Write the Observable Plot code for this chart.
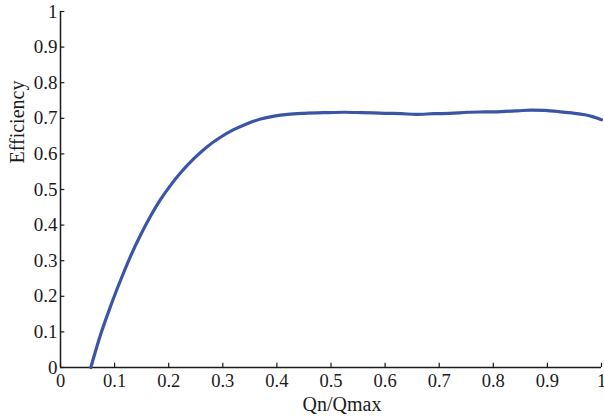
<!DOCTYPE html>
<html>
<head>
<meta charset="utf-8">
<script src="https://cdn.jsdelivr.net/npm/d3@7"></script>
<script src="https://cdn.jsdelivr.net/npm/@observablehq/plot@0.6"></script>
<style>
  html, body { margin: 0; padding: 0; background: #fff; }
  #chart svg { display: block; overflow: visible; }
  #chart svg text { font-family: 'Liberation Serif', 'DejaVu Serif', serif; }
</style>
</head>
<body>
<div id="chart"></div>
<script>
const qn = [0.056, 0.074, 0.092, 0.111, 0.129, 0.148, 0.166, 0.185, 0.203, 0.222, 0.246, 0.27, 0.295, 0.32, 0.345, 0.37, 0.395, 0.42, 0.45, 0.49, 0.525, 0.556, 0.6, 0.63, 0.657, 0.69, 0.72, 0.753, 0.785, 0.815, 0.845, 0.870, 0.895, 0.920, 0.945, 0.969, 0.985, 1.0];
const eff = [0.0, 0.092, 0.170, 0.245, 0.311, 0.372, 0.424, 0.472, 0.511, 0.547, 0.586, 0.619, 0.646, 0.668, 0.685, 0.698, 0.706, 0.711, 0.714, 0.716, 0.717, 0.716, 0.714, 0.713, 0.711, 0.713, 0.714, 0.717, 0.718, 0.719, 0.721, 0.723, 0.722, 0.719, 0.715, 0.710, 0.704, 0.696];
const xTicks = [0, 0.1, 0.2, 0.3, 0.4, 0.5, 0.6, 0.7, 0.8, 0.9, 1];
const yTicks = [0, 0.1, 0.2, 0.3, 0.4, 0.5, 0.6, 0.7, 0.8, 0.9, 1];
const xLabel = "Qn/Qmax";
const yLabel = "Efficiency";

const data = qn.map((q, i) => ({q, e: eff[i]}));
const fmt = d => d === 0 ? "0" : d === 1 ? "1" : String(d);
const ink = "#1a1a1a";
const serif = "'Liberation Serif', 'DejaVu Serif', serif";

const chart = Plot.plot({
  width: 604,
  height: 420,
  marginLeft: 60,
  marginRight: 3,
  marginTop: 11,
  marginBottom: 53,
  style: {fontFamily: serif, fontSize: "19px", color: ink, background: "#fff"},
  x: {domain: [0, 1], axis: null},
  y: {domain: [0, 1], axis: null},
  marks: [
    Plot.axisX({ticks: xTicks, tickSize: 0, tickPadding: 6, tickFormat: fmt, fontSize: 18.5, fontFamily: serif, label: null}),
    Plot.axisY({ticks: yTicks, tickSize: 0, tickPadding: 3, tickFormat: fmt, fontSize: 19, fontFamily: serif, label: null}),
    Plot.ruleX(xTicks, {x: d => d, y1: 0, y2: 0.012, stroke: ink, strokeWidth: 1.2}),
    Plot.ruleY(yTicks, {y: d => d, x1: 0, x2: 0.008, stroke: ink, strokeWidth: 1.2}),
    Plot.ruleY([0], {stroke: ink, strokeWidth: 1.5}),
    Plot.ruleX([0], {stroke: ink, strokeWidth: 1.5}),
    Plot.line(data, {x: "q", y: "e", stroke: "#3b55a6", strokeWidth: 3.2, curve: "monotone-x"}),
    Plot.text([xLabel], {frameAnchor: "bottom", dx: 11, dy: 43, fontSize: 20, fontFamily: serif, fill: ink}),
    Plot.text([yLabel], {frameAnchor: "left", rotate: -90, dx: -43, dy: -26, fontSize: 20, fontFamily: serif, fill: ink})
  ]
});
document.getElementById("chart").append(chart);
</script>
</body>
</html>
